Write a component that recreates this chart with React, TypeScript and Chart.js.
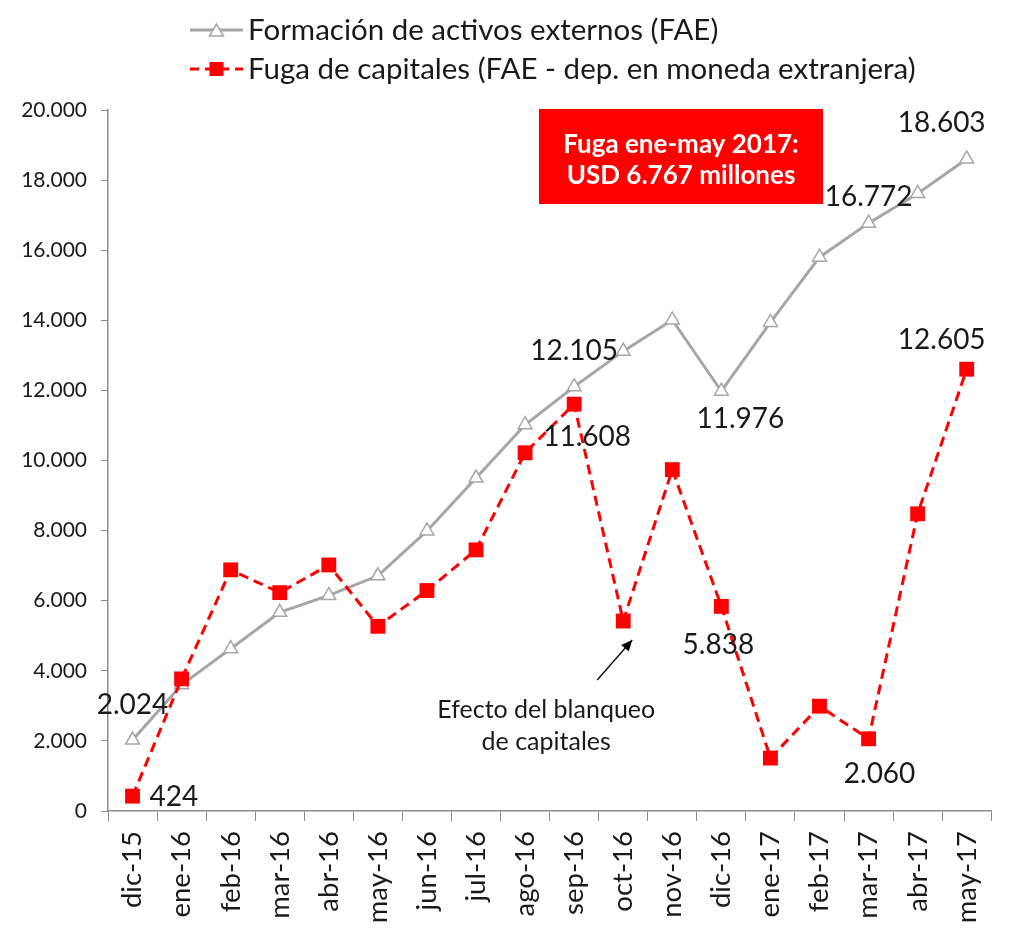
import React, { useEffect, useRef } from 'react';
import { Chart, registerables } from 'chart.js';

Chart.register(...registerables);

// ---------- data ----------
const categories = [
  'dic-15', 'ene-16', 'feb-16', 'mar-16', 'abr-16', 'may-16', 'jun-16', 'jul-16', 'ago-16',
  'sep-16', 'oct-16', 'nov-16', 'dic-16', 'ene-17', 'feb-17', 'mar-17', 'abr-17', 'may-17',
];
const faeValues = [
  2024, 3600, 4630, 5670, 6150, 6710, 7990, 9500, 11020,
  12105, 13120, 14010, 11976, 13940, 15800, 16772, 17620, 18603,
];
const fugaValues = [
  424, 3770, 6880, 6230, 7020, 5270, 6290, 7450, 10220,
  11608, 5420, 9740, 5838, 1510, 2990, 2060, 8480, 12605,
];
const seriesNames = [
  'Formación de activos externos (FAE)',
  'Fuga de capitales (FAE - dep. en moneda extranjera)',
];
const yMin = 0;
const yMax = 20000;
const yStep = 2000;
const labeledFae = [0, 9, 12, 15, 17];
const labeledFuga = [0, 9, 12, 15, 17];
const boxLines = ['Fuga ene-may 2017:', 'USD 6.767 millones'];
const noteLines = ['Efecto del blanqueo', 'de capitales'];
const noteIndex = 10;

// ---------- styling / placement ----------
const FONT = 'Lato, "Open Sans", sans-serif';
const GRAY = '#A6A6A6';
const RED = '#FF0000';
const AXIS = '#8C8C8C';
const TEXT = '#1a1a1a';

// label offsets [dx, dy, align]
const faeLabelOffsets: [number, number, CanvasTextAlign][] = [
  [0, -35, 'center'], [0, -36, 'center'], [19, 28, 'center'], [0, -26, 'center'], [-25, -36, 'center'],
];
const fugaLabelOffsets: [number, number, CanvasTextAlign][] = [
  [17, 1, 'left'], [13, 33, 'center'], [-3, 39, 'center'], [11, 35, 'center'], [-25, -29, 'center'],
];

const fmt = (v: number) => Math.round(v).toString().replace(/\B(?=(\d{3})+(?!\d))/g, '.');

function drawMarker(ctx: CanvasRenderingContext2D, kind: 'tri' | 'rect', x: number, y: number) {
  ctx.save();
  if (kind === 'rect') {
    ctx.fillStyle = RED;
    ctx.fillRect(x - 7, y - 7, 14, 14);
  } else {
    const r = 8;
    ctx.beginPath();
    ctx.moveTo(x, y - r);
    ctx.lineTo(x + r * Math.cos(Math.PI / 6), y + r / 2);
    ctx.lineTo(x - r * Math.cos(Math.PI / 6), y + r / 2);
    ctx.closePath();
    ctx.fillStyle = '#fff';
    ctx.fill();
    ctx.lineWidth = 1.5;
    ctx.strokeStyle = GRAY;
    ctx.stroke();
  }
  ctx.restore();
}

const overlayPlugin = {
  id: 'overlay',
  afterDatasetsDraw(chart: any) {
    const ctx: CanvasRenderingContext2D = chart.ctx;
    const xs = chart.scales.x;
    const ys = chart.scales.y;
    const area = chart.chartArea;

    // data labels
    ctx.save();
    ctx.font = `28px ${FONT}`;
    ctx.fillStyle = TEXT;
    ctx.textBaseline = 'middle';
    labeledFae.forEach((i, k) => {
      const [dx, dy, al] = faeLabelOffsets[k];
      ctx.textAlign = al;
      ctx.fillText(fmt(faeValues[i]), xs.getPixelForValue(i) + dx, ys.getPixelForValue(faeValues[i]) + dy);
    });
    labeledFuga.forEach((i, k) => {
      const [dx, dy, al] = fugaLabelOffsets[k];
      ctx.textAlign = al;
      ctx.fillText(fmt(fugaValues[i]), xs.getPixelForValue(i) + dx, ys.getPixelForValue(fugaValues[i]) + dy);
    });
    ctx.restore();

    // red box
    ctx.save();
    const bx = area.left + 431;
    const by = area.top - 1;
    ctx.fillStyle = RED;
    ctx.fillRect(bx, by, 284, 95);
    ctx.fillStyle = '#fff';
    ctx.font = `bold 26px ${FONT}`;
    ctx.textAlign = 'center';
    ctx.textBaseline = 'middle';
    ctx.fillText(boxLines[0], bx + 142, by + 36);
    ctx.fillText(boxLines[1], bx + 142, by + 67);
    ctx.restore();

    // note with arrow
    ctx.save();
    const px = xs.getPixelForValue(noteIndex);
    const py = ys.getPixelForValue(fugaValues[noteIndex]);
    const tipX = px + 9, tipY = py + 19;
    const sX = px - 26, sY = py + 59;
    ctx.strokeStyle = '#000';
    ctx.fillStyle = '#000';
    ctx.lineWidth = 1.3;
    ctx.beginPath();
    ctx.moveTo(sX, sY);
    ctx.lineTo(tipX, tipY);
    ctx.stroke();
    const ang = Math.atan2(tipY - sY, tipX - sX);
    const hl = 11, hw = 5;
    ctx.beginPath();
    ctx.moveTo(tipX, tipY);
    ctx.lineTo(tipX - hl * Math.cos(ang) + hw * Math.sin(ang), tipY - hl * Math.sin(ang) - hw * Math.cos(ang));
    ctx.lineTo(tipX - hl * Math.cos(ang) - hw * Math.sin(ang), tipY - hl * Math.sin(ang) + hw * Math.cos(ang));
    ctx.closePath();
    ctx.fill();
    ctx.font = `25px ${FONT}`;
    ctx.fillStyle = TEXT;
    ctx.textAlign = 'center';
    ctx.textBaseline = 'middle';
    ctx.fillText(noteLines[0], px - 77, py + 89);
    ctx.fillText(noteLines[1], px - 77, py + 121);
    ctx.restore();

    // legend
    ctx.save();
    const lx0 = area.left + 82;
    const lx1 = lx0 + 53;
    const rows = [30, 69];
    ctx.lineWidth = 3;
    ctx.strokeStyle = GRAY;
    ctx.beginPath();
    ctx.moveTo(lx0, rows[0]);
    ctx.lineTo(lx1, rows[0]);
    ctx.stroke();
    drawMarker(ctx, 'tri', (lx0 + lx1) / 2, rows[0] + 2);
    ctx.strokeStyle = RED;
    ctx.setLineDash([9, 6]);
    ctx.beginPath();
    ctx.moveTo(lx0, rows[1]);
    ctx.lineTo(lx1, rows[1]);
    ctx.stroke();
    ctx.setLineDash([]);
    drawMarker(ctx, 'rect', (lx0 + lx1) / 2, rows[1]);
    ctx.font = `29.5px ${FONT}`;
    ctx.fillStyle = TEXT;
    ctx.textAlign = 'left';
    ctx.textBaseline = 'middle';
    ctx.fillText(seriesNames[0], lx1 + 5, rows[0]);
    ctx.fillText(seriesNames[1], lx1 + 5, rows[1]);
    ctx.restore();
  },
};

export default function App() {
  const ref = useRef<HTMLCanvasElement>(null);
  useEffect(() => {
    let chart: Chart | null = null;
    let cancelled = false;
    const make = () => {
      if (cancelled || !ref.current) return;
      chart = new Chart(ref.current, {
        type: 'line',
        data: {
          labels: categories,
          datasets: [
            {
              label: seriesNames[0],
              data: faeValues,
              borderColor: GRAY,
              backgroundColor: '#fff',
              borderWidth: 3,
              pointStyle: 'triangle',
              pointRadius: 8,
              pointBackgroundColor: '#fff',
              pointBorderColor: GRAY,
              pointBorderWidth: 1.5,
              tension: 0,
              order: 1,
              clip: false as any,
            },
            {
              label: seriesNames[1],
              data: fugaValues,
              borderColor: RED,
              backgroundColor: RED,
              borderWidth: 3,
              borderDash: [10, 6],
              pointStyle: 'rect',
              pointRadius: 10.5,
              pointBackgroundColor: RED,
              pointBorderColor: RED,
              pointBorderWidth: 0,
              tension: 0,
              order: 0,
              clip: false as any,
            },
          ],
        },
        options: {
          animation: false,
          responsive: true,
          maintainAspectRatio: false,
          layout: { padding: { top: 110, right: 8, bottom: 0, left: 0 } },
          plugins: {
            legend: { display: false },
            tooltip: { enabled: false },
          },
          scales: {
            x: {
              offset: true,
              grid: {
                display: true,
                offset: true,
                drawOnChartArea: false,
                drawTicks: true,
                tickLength: 10,
                color: AXIS,
                lineWidth: 1,
              },
              border: { display: true, color: AXIS, width: 1.5 },
              ticks: {
                minRotation: 90,
                maxRotation: 90,
                autoSkip: false,
                padding: 10,
                color: TEXT,
                font: { family: FONT, size: 27.5 },
              },
              afterFit: (s: any) => { s.height = 127; },
            },
            y: {
              min: yMin,
              max: yMax,
              grid: {
                display: true,
                drawOnChartArea: false,
                drawTicks: true,
                tickLength: 7,
                color: AXIS,
                lineWidth: 1,
              },
              border: { display: true, color: AXIS, width: 1.5 },
              ticks: {
                stepSize: yStep,
                padding: 14,
                color: TEXT,
                font: { family: FONT, size: 21 },
                callback: (v: any) => fmt(Number(v)),
              },
              afterFit: (s: any) => { s.width = 108; },
            },
          },
        },
        plugins: [overlayPlugin],
      });
    };
    const fonts = (document as any).fonts;
    if (fonts && fonts.load) {
      Promise.all([
        fonts.load(`20px Lato`),
        fonts.load(`bold 20px Lato`),
      ]).then(make, make);
    } else {
      make();
    }
    return () => {
      cancelled = true;
      if (chart) chart.destroy();
    };
  }, []);
  return (
    <div style={{ width: 1010, height: 938, position: 'relative' }}>
      <style>{'body{margin:0;}'}</style>
      <canvas ref={ref} />
    </div>
  );
}
